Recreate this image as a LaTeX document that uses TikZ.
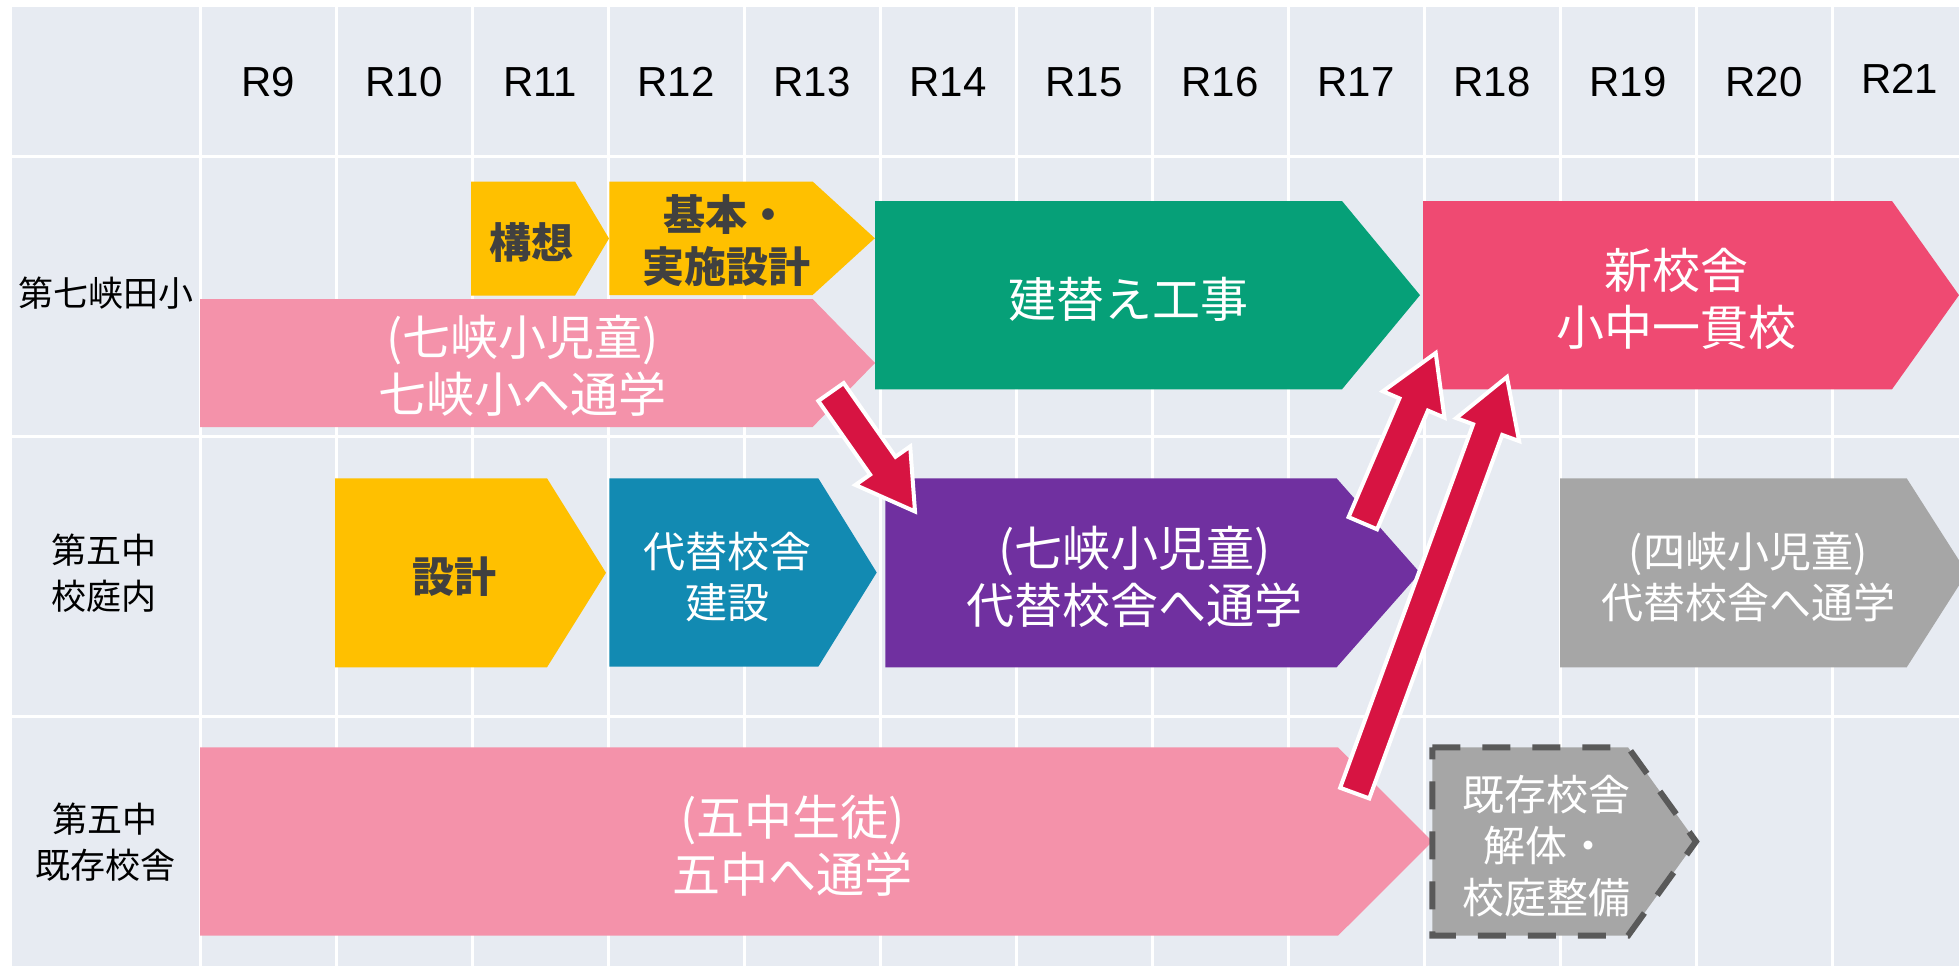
\documentclass[tikz,border=0pt]{standalone}
\usepackage{fontspec}
\setmainfont{Liberation Sans}
\newfontfamily\jp{Noto Sans CJK JP}
\usetikzlibrary{calc}
\definecolor{cellbg}{HTML}{E7EBF2}
\definecolor{ylw}{HTML}{FFC000}
\definecolor{pnk}{HTML}{F492AA}
\definecolor{grn}{HTML}{06A078}
\definecolor{nsred}{HTML}{EF4A72}
\definecolor{blu}{HTML}{128AB2}
\definecolor{prp}{HTML}{7030A0}
\definecolor{gry}{HTML}{A6A6A6}
\definecolor{arred}{HTML}{D71442}
\definecolor{dtext}{HTML}{404040}
\definecolor{dashgray}{HTML}{595959}
\tikzset{
  gridline/.style={white, line width=3pt},
  rlabel/.style={font=\fontsize{42}{50}\selectfont, anchor=base, inner sep=0pt},
  rowlabel/.style={font=\jp\fontsize{35}{46}\selectfont, align=center, inner sep=0pt},
  wtext/.style={text=white, font=\jp\fontsize{48}{57}\selectfont, align=center, inner sep=0pt},
  wtextsm/.style={text=white, font=\jp\fontsize{42}{51.5}\selectfont, align=center, inner sep=0pt},
  dtextst/.style={text=dtext, font=\jp\bfseries\fontsize{42}{52}\selectfont, align=center, inner sep=0pt},
  arrowbody/.style={fill=arred, draw=white, line width=4pt, line join=miter},
  dashbox/.style={fill=gry, draw=dashgray, line width=6pt, dash pattern=on 28pt off 22pt, line join=miter}
}
\newcommand\hp[6]{\fill[#1] (#2,#3) -- (#4,#3) -- (#5,{(#3+#6)/2}) -- (#4,#6) -- (#2,#6) -- cycle;}
\newcommand\blockarrow[2]{%
  \coordinate (#1hb) at ($(#2)!56pt!(#1)$);
  \draw[arrowbody] ($(#1)!15.5pt!90:(#2)$) -- ($(#1hb)!15.5pt!90:(#2)$) -- ($(#1hb)!33.5pt!90:(#2)$) -- (#2) -- ($(#1hb)!33.5pt!-90:(#2)$) -- ($(#1hb)!15.5pt!-90:(#2)$) -- ($(#1)!15.5pt!-90:(#2)$) -- cycle;}
\begin{document}
\begin{tikzpicture}[x=1pt,y=-1pt]
\useasboundingbox (0,0) rectangle (1959,966);
\clip (0,0) rectangle (1959,966);
\fill[white] (0,0) rectangle (1959,966);
% table
\fill[cellbg] (12,7) rectangle (1959,966);
\foreach \x in {200,336,...,1832} \draw[gridline] (\x,7) -- (\x,966);
\foreach \y in {156.5,436,716} \draw[gridline] (12,\y) -- (1959,\y);
% header labels
\foreach \i in {9,...,20} \node[rlabel] (r\i) at ({268+136*(\i-9)},96.5) {R\i};
\node[rlabel] (r21) at (1899.5,93.3) {R21};
% row labels
\node[rowlabel] (lab1) at (106,293) {第七峡田小};
\node[rowlabel] (lab2) at (104,573.5) {第五中\\校庭内};
\node[rowlabel] (lab3) at (105,842.5) {第五中\\既存校舎};
% shapes row 1
\hp{ylw}{471}{181.5}{575}{609}{295.5}
\hp{ylw}{609.4}{181.5}{812.6}{874.8}{295}
\hp{pnk}{200}{299}{812.6}{875}{427}
\hp{grn}{875}{201}{1342}{1420}{389.3}
\hp{nsred}{1423}{201}{1892}{1959}{389.3}
% row 2
\hp{ylw}{335}{478.3}{547}{606}{667.3}
\hp{blu}{609.3}{478.3}{818.3}{876.7}{666.7}
\hp{prp}{885.4}{478.3}{1336.6}{1420}{667.3}
\hp{gry}{1560}{478.3}{1906.7}{1967}{667.3}
% row 3
\hp{pnk}{200}{747.3}{1338}{1432.4}{935.7}
\path[dashbox] (1432.4,747.3) -- (1628,747.3) -- (1696,841.5) -- (1628,935.7) -- (1432.4,935.7) -- cycle;
% texts
\node[dtextst] (kousou) at (531,242.5) {構想};
\node[dtextst] (kihon) at (726.5,241) {基本・\\実施設計};
\node[wtext] (nana1) at (522.5,365.5) {(七峡小児童)\\七峡小へ通学};
\node[wtext] (tatekae) at (1128,299.5) {建替え工事};
\node[wtext] (shin) at (1676,299) {新校舎\\小中一貫校};
\node[dtextst] (sekkei) at (454.3,577) {設計};
\node[wtextsm] (daitai) at (727.5,577) {代替校舎\\建設};
\node[wtext] (nana2) at (1134.7,576.5) {(七峡小児童)\\代替校舎へ通学};
\node[wtextsm] (yon) at (1748,577) {(四峡小児童)\\代替校舎へ通学};
\node[wtext] (goch) at (792.5,845.5) {(五中生徒)\\五中へ通学};
\node[wtextsm] (kaitai) at (1546,846) {既存校舎\\解体・\\校庭整備};
% arrows
\coordinate (a1s) at (831,392); \coordinate (a1e) at (915,511.5);
\coordinate (a2s) at (1362.8,523.2); \coordinate (a2e) at (1435.7,353);
\coordinate (a3s) at (1354.7,793.1); \coordinate (a3e) at (1506.9,377);
\blockarrow{a1s}{a1e}
\blockarrow{a2s}{a2e}
\blockarrow{a3s}{a3e}
\end{tikzpicture}
\end{document}
